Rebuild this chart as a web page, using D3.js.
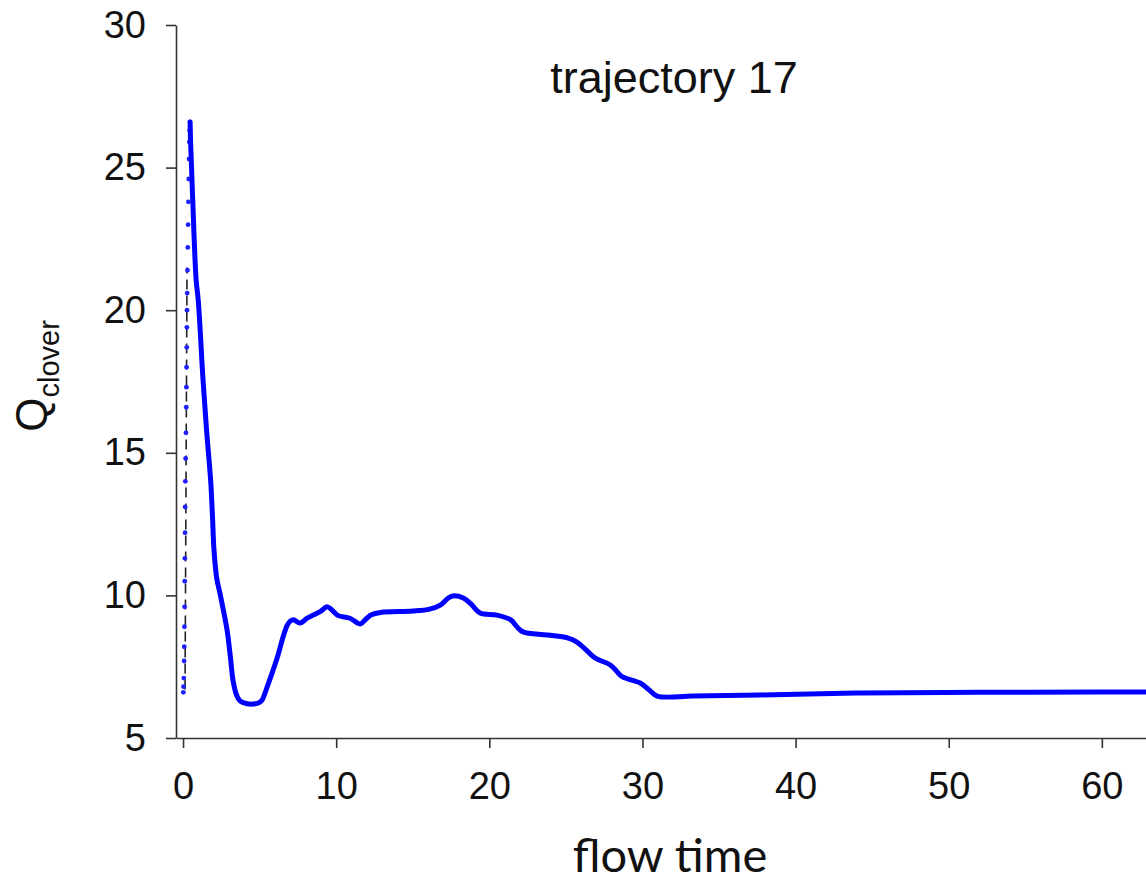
<!DOCTYPE html>
<html>
<head>
<meta charset="utf-8">
<script src="https://cdn.jsdelivr.net/npm/d3@7"></script>
<style>
  body { margin: 0; background: #fff; }
  svg { display: block; }
</style>
</head>
<body>
<div id="chart"></div>
<script>
// flow time / Q_clover values
var mainT = [0.46, 0.5, 0.63, 0.85, 1.0, 1.3, 1.55, 1.8, 1.92, 2.02, 2.2, 2.42, 2.87, 3.1, 3.27, 3.5, 3.72, 4.2, 4.57, 5.0, 5.16, 5.5, 5.88, 6.2, 6.53, 6.8, 7.0, 7.2, 7.64, 8.1, 8.5, 9.0, 9.4, 9.7, 10.1, 10.9, 11.56, 12.0, 12.3, 12.9, 15.0, 16.1, 16.8, 17.3, 17.6, 18.3, 18.8, 19.4, 20.5, 21.4, 21.8, 22.2, 23.8, 25.1, 25.7, 26.3, 26.9, 27.9, 28.3, 28.7, 29.85, 30.4, 30.96, 33.3, 37.7, 44.2, 52, 60, 66];
var mainQ = [26.6, 25.8, 23.9, 21.1, 20.3, 17.6, 15.7, 14.05, 12.8, 11.6, 10.6, 10.05, 8.8, 7.8, 7.0, 6.5, 6.3, 6.2, 6.19, 6.25, 6.33, 6.8, 7.38, 7.9, 8.54, 8.95, 9.1, 9.15, 9.03, 9.2, 9.31, 9.45, 9.6, 9.5, 9.3, 9.2, 9.0, 9.2, 9.32, 9.4, 9.45, 9.52, 9.66, 9.9, 9.98, 9.91, 9.7, 9.38, 9.31, 9.14, 8.9, 8.72, 8.61, 8.51, 8.37, 8.1, 7.81, 7.56, 7.35, 7.14, 6.93, 6.7, 6.47, 6.47, 6.51, 6.58, 6.6, 6.61, 6.62];

// early rise, drawn as separate markers
var riseT = [0.02, 0.03, 0.05, 0.07, 0.08, 0.09, 0.1, 0.11, 0.12, 0.13, 0.14, 0.15, 0.17, 0.19, 0.21, 0.22, 0.23, 0.24, 0.25, 0.26, 0.27, 0.29, 0.31, 0.33, 0.35, 0.37, 0.39, 0.41, 0.43, 0.45];
var riseQ = [6.6, 6.8, 7.1, 7.7, 8.2, 8.9, 9.6, 10.5, 11.3, 12.2, 13.1, 14.0, 14.8, 15.7, 16.6, 17.3, 18.0, 18.7, 19.4, 20.0, 20.6, 21.4, 22.2, 23.0, 23.8, 24.6, 25.3, 25.9, 26.3, 26.6];

// black dashed segment
var dashT = [0.13, 0.26];
var dashQ = [6.7, 21.5];

var xTicks = [0, 10, 20, 30, 40, 50, 60];
var yTicks = [5, 10, 15, 20, 25, 30];

var W = 1146, H = 884;
var axisX = 176, axisY = 738;

var svg = d3.select("#chart").append("svg")
  .attr("width", W)
  .attr("height", H);

var x = d3.scaleLinear().domain([-0.46, 70]).range([axisX, 1255]);
var y = d3.scaleLinear().domain([5, 30]).range([axisY, 25]);

// axes
var xAxis = svg.append("g")
  .attr("transform", "translate(0," + axisY + ")")
  .call(d3.axisBottom(x).tickValues(xTicks).tickSize(10).tickSizeOuter(0).tickPadding(24).tickFormat(d3.format("d")));

var yAxis = svg.append("g")
  .attr("transform", "translate(" + axisX + ",0)")
  .call(d3.axisLeft(y).tickValues(yTicks).tickSize(10).tickSizeOuter(0).tickPadding(20).tickFormat(d3.format("d")));

[xAxis, yAxis].forEach(function(a){
  a.selectAll("path.domain").attr("stroke", "#333").attr("stroke-width", 1.6);
  a.selectAll(".tick line").attr("stroke", "#333").attr("stroke-width", 1.6);
  a.selectAll(".tick text")
    .attr("fill", "#111")
    .style("font-family", "'Liberation Sans', Arial, sans-serif")
    .style("font-size", "38px");
});

// dashed black line
var line = d3.line().x(function(d){return x(d[0]);}).y(function(d){return y(d[1]);});
svg.append("path")
  .datum(dashT.map(function(t, i){return [t, dashQ[i]];}))
  .attr("d", line)
  .attr("fill", "none")
  .attr("stroke", "#222")
  .attr("stroke-width", 1.6)
  .attr("stroke-dasharray", "10,6");

// rising markers
svg.selectAll(".rise")
  .data(riseT.map(function(t, i){return [t, riseQ[i]];}))
  .enter()
  .append("circle")
  .attr("class", "rise")
  .attr("cx", function(d){return x(d[0]);})
  .attr("cy", function(d){return y(d[1]);})
  .attr("r", 2.4)
  .attr("fill", "#1f1fff");

// main curve
var smooth = d3.line()
  .x(function(d){return x(d[0]);})
  .y(function(d){return y(d[1]);})
  .curve(d3.curveCatmullRom.alpha(0.5));
svg.append("path")
  .datum(mainT.map(function(t, i){return [t, mainQ[i]];}))
  .attr("d", smooth)
  .attr("fill", "none")
  .attr("stroke", "#0000ff")
  .attr("stroke-width", 5)
  .attr("stroke-linejoin", "round")
  .attr("stroke-linecap", "round");

// title
svg.append("text")
  .attr("x", 674)
  .attr("y", 93)
  .attr("text-anchor", "middle")
  .style("font-family", "'Liberation Sans', Arial, sans-serif")
  .style("font-size", "45px")
  .attr("fill", "#111")
  .text("trajectory 17");

// x label
svg.append("text")
  .attr("x", 670)
  .attr("y", 872)
  .attr("text-anchor", "middle")
  .style("font-family", "Lato, sans-serif")
  .style("font-size", "47px")
  .attr("fill", "#111")
  .text("flow time");

// y label with subscript
var yl = svg.append("text")
  .attr("transform", "translate(47,376) rotate(-90)")
  .attr("text-anchor", "middle")
  .style("font-family", "'Liberation Sans', Arial, sans-serif")
  .attr("fill", "#111");
yl.append("tspan").style("font-size", "44px").text("Q");
yl.append("tspan").style("font-size", "29px").attr("dy", 12).text("clover");
</script>
</body>
</html>
